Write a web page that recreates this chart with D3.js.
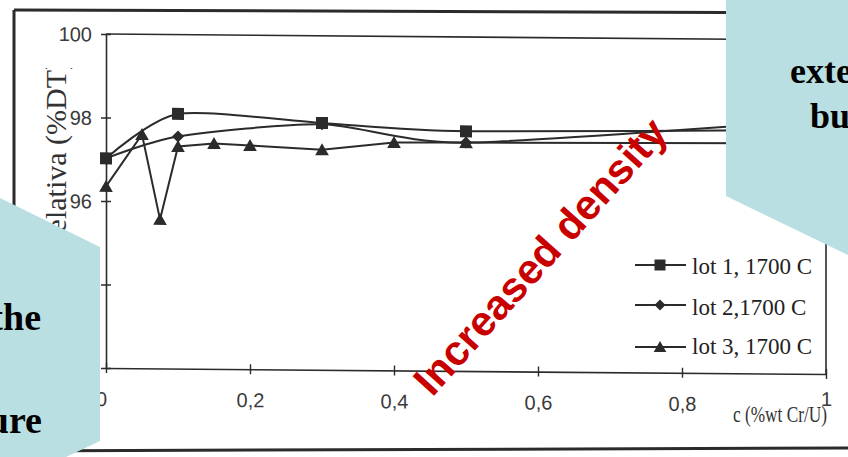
<!DOCTYPE html>
<html><head><meta charset="utf-8">
<script src="https://cdn.jsdelivr.net/npm/d3@7"></script>
<style>html,body{margin:0;padding:0;background:#fff;overflow:hidden}</style>
</head><body>
<svg id="c" width="848" height="457" xmlns="http://www.w3.org/2000/svg"></svg>
<script>
// ---- data ----
const seriesNames = ["lot 1, 1700 C", "lot 2,1700 C", "lot 3, 1700 C"];
const lot1X = [0, 0.1, 0.3, 0.5, 1];
const lot1Y = [97.02, 98.1, 97.91, 97.74, 97.85];
const lot2X = [0, 0.1, 0.3, 0.5, 1];
const lot2Y = [97.02, 97.56, 97.88, 97.47, 98.1];
const lot3X = [0, 0.05, 0.075, 0.1, 0.15, 0.2, 0.3, 0.4, 0.5, 1];
const lot3Y = [96.35, 97.6, 95.57, 97.32, 97.4, 97.36, 97.27, 97.46, 97.47, 97.52];
const xTicks = [0, 0.2, 0.4, 0.6, 0.8, 1];
const xTickLabels = ["0", "0,2", "0,4", "0,6", "0,8", "1"];
const yTicks = [92, 94, 96, 98, 100];
const yTickLabels = ["92", "94", "96", "98", "100"];
const xTitle = "c (%wt Cr/U)";
const yTitle = "Densidad relativa (%DT)";
const overlayText = "Increased density";
const leftNote = ["the", "structure"];
const rightNote = ["extent", "but"];

const svg = d3.select("#c");
svg.append("rect").attr("width", 848).attr("height", 457).attr("fill", "#fff");

const ink = "#2b2b2b";
const x = d3.scaleLinear().domain([0, 1]).range([106, 826]);
const y = d3.scaleLinear().domain([92, 100]).range([368, 34]);

// scanned page border
svg.append("path").attr("d", "M14,10 L726,12.5").attr("stroke", ink).attr("stroke-width", 3).attr("fill", "none");
svg.append("path").attr("d", "M14,10 L14,457").attr("stroke", ink).attr("stroke-width", 3).attr("fill", "none");
svg.append("path").attr("d", "M0,451 L848,448").attr("stroke", ink).attr("stroke-width", 3).attr("fill", "none");

// y title (clipped like the scan)
svg.append("clipPath").attr("id", "yc").append("rect").attr("x", 0).attr("y", 68).attr("width", 100).attr("height", 400);
svg.append("g").attr("clip-path", "url(#yc)").append("text")
  .attr("transform", "translate(66,60) rotate(-90)")
  .attr("text-anchor", "end")
  .attr("font-family", "Liberation Serif, serif").attr("font-size", 30).attr("fill", "#333")
  .text(yTitle);

const k = 0.0083;
const g = svg.append("g").attr("transform", `matrix(1,${k},0,1,0,${-106 * k})`);

// plot frame (top & right)
g.append("path").attr("d", `M${x(0)},${y(100)} L${x(1)},${y(100)} L${x(1)},${y(92)}`)
  .attr("stroke", ink).attr("stroke-width", 1.6).attr("fill", "none");

const xAxis = g.append("g").attr("transform", `translate(0,${y(92)})`)
  .call(d3.axisBottom(x).tickValues(xTicks).tickFormat((d, i) => xTickLabels[i]).tickSizeOuter(0));
xAxis.select(".domain").attr("stroke", ink).attr("stroke-width", 1.6);
xAxis.selectAll(".tick line").attr("y1", -5).attr("y2", 5).attr("stroke", ink).attr("stroke-width", 1.4);
xAxis.selectAll(".tick text").attr("y", 38).attr("dy", null)
  .attr("font-family", "Liberation Sans, Arial, sans-serif").attr("font-size", 20).attr("fill", "#3a3a3a");
xAxis.selectAll(".tick text").filter(d => d === 1).attr("y", 32);
xAxis.selectAll(".tick text").filter(d => d === 0).attr("x", -5);

const yAxis = g.append("g").attr("transform", `translate(${x(0)},0)`)
  .call(d3.axisLeft(y).tickValues(yTicks).tickFormat((d, i) => yTickLabels[i]).tickSizeOuter(0));
yAxis.select(".domain").attr("stroke", ink).attr("stroke-width", 1.6);
yAxis.selectAll(".tick line").attr("x1", -5).attr("x2", 5).attr("stroke", ink).attr("stroke-width", 1.4);
yAxis.selectAll(".tick text").attr("x", -14).attr("dy", "0.35em")
  .attr("font-family", "Liberation Sans, Arial, sans-serif").attr("font-size", 20).attr("fill", "#3a3a3a");

// series
const lot1 = lot1X.map((v, i) => [v, lot1Y[i]]);
const lot2 = lot2X.map((v, i) => [v, lot2Y[i]]);
const lot3 = lot3X.map((v, i) => [v, lot3Y[i]]);
const smooth = d3.line().x(d => x(d[0])).y(d => y(d[1])).curve(d3.curveCardinal.tension(0.25));
const straight = d3.line().x(d => x(d[0])).y(d => y(d[1]));

const sq = s => `M${-s},${-s}h${2 * s}v${2 * s}h${-2 * s}Z`;
const dia = s => `M0,${-s}L${s},0L0,${s}L${-s},0Z`;
const tri = s => `M0,${-s}L${s * 1.05},${s * 0.85}L${-s * 1.05},${s * 0.85}Z`;

g.append("path").attr("d", straight(lot3)).attr("stroke", ink).attr("stroke-width", 2).attr("fill", "none");
g.append("path").attr("d", smooth(lot2)).attr("stroke", ink).attr("stroke-width", 2).attr("fill", "none");
g.append("path").attr("d", smooth(lot1)).attr("stroke", ink).attr("stroke-width", 2).attr("fill", "none");

g.selectAll(".m3").data(lot3).join("path").attr("d", tri(6.5))
  .attr("transform", d => `translate(${x(d[0])},${y(d[1])})`).attr("fill", ink);
g.selectAll(".m2").data(lot2).join("path").attr("d", dia(6))
  .attr("transform", d => `translate(${x(d[0])},${y(d[1])})`).attr("fill", ink);
g.selectAll(".m1").data(lot1).join("path").attr("d", sq(6))
  .attr("transform", d => `translate(${x(d[0])},${y(d[1])})`).attr("fill", ink);

// legend
const markers = [sq(5.5), dia(5.5), tri(6)];
const legY = [265, 305, 347];
seriesNames.forEach((n, i) => {
  const lg = svg.append("g").attr("transform", `translate(0,${legY[i]})`);
  lg.append("line").attr("x1", 635).attr("x2", 686).attr("stroke", ink).attr("stroke-width", 2);
  lg.append("path").attr("d", markers[i]).attr("transform", "translate(660,0)").attr("fill", ink);
  lg.append("text").attr("x", 692).attr("y", 9 - (i === 2 ? 2 : 0) + (i === 1 ? 1 : 0))
    .attr("font-family", "Liberation Serif, serif").attr("font-size", 23).attr("fill", "#222").text(n);
});

// x title
svg.append("text").attr("x", 733).attr("y", 422).attr("textLength", 94).attr("lengthAdjust", "spacingAndGlyphs")
  .attr("font-family", "Liberation Serif, serif").attr("font-size", 24).attr("fill", "#333").text(xTitle);

// overlay shapes
const blue = "#badfe3";
svg.append("path").attr("d", "M0,198 L100,247 L100,441 L66,457 L0,457 Z").attr("fill", blue);
svg.append("path").attr("d", "M726,0 L848,0 L848,255 L726,196 Z").attr("fill", blue);

const noteFont = "Liberation Serif, 'Times New Roman', serif";
svg.append("text").attr("x", 41).attr("y", 330).attr("text-anchor", "end")
  .attr("font-family", noteFont).attr("font-weight", "bold").attr("font-size", 38).attr("fill", "#000").text(leftNote[0]);
svg.append("text").attr("x", 42).attr("y", 433).attr("text-anchor", "end")
  .attr("font-family", noteFont).attr("font-weight", "bold").attr("font-size", 38).attr("fill", "#000").text(leftNote[1]);
svg.append("text").attr("x", 790).attr("y", 83)
  .attr("font-family", noteFont).attr("font-weight", "bold").attr("font-size", 36).attr("fill", "#000").text(rightNote[0]);
svg.append("text").attr("x", 810).attr("y", 128)
  .attr("font-family", noteFont).attr("font-weight", "bold").attr("font-size", 36).attr("fill", "#000").text(rightNote[1]);

// red annotation
svg.append("text").attr("transform", "translate(551,266) rotate(-48)").attr("text-anchor", "middle")
  .attr("font-family", "Liberation Sans, Arial, sans-serif").attr("font-weight", "bold").attr("font-size", 42)
  .attr("fill", "#c80000").text(overlayText);
</script>
</body></html>
